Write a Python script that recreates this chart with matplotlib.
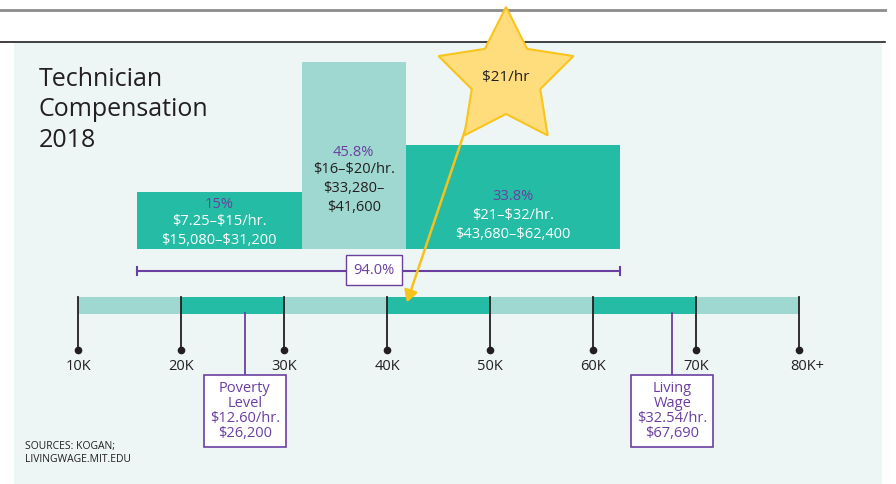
import numpy as np
import matplotlib.pyplot as plt
from matplotlib.patches import Rectangle, Polygon, FancyArrowPatch

plt.rcParams["font.family"] = ["Open Sans", "DejaVu Sans"]
plt.rcParams["text.parse_math"] = False

DARK = '#25bca5'
LIGHT = '#9fd8d0'
PURPLE = '#6b3fa0'
PANEL = '#edf6f4'
INK = '#231f20'

# salary axis (dollars)
tick_values = [10000, 20000, 30000, 40000, 50000, 60000, 70000, 80000]
tick_labels = ['10K', '20K', '30K', '40K', '50K', '60K', '70K', '80K+']

# distribution bars
bar_edges = [15700, 31700, 41800, 62600]
bar_heights = [57, 187, 104]
bar_pcts = ['15%', '45.8%', '33.8%']
bar_hourly = ['$7.25–$15/hr.', '$16–$20/hr.', '$21–$32/hr.']
bar_annual = ['$15,080–$31,200', '$33,280–\n$41,600', '$43,680–$62,400']
bar_colors = [DARK, LIGHT, DARK]
total_pct = '94.0%'

# reference markers
poverty = 26200
poverty_text = 'Poverty\nLevel\n$12.60/hr.\n$26,200'
living = 67690
living_text = 'Living\nWage\n$32.54/hr.\n$67,690'
star_text = '$21/hr'

W, H = 896, 484
PX_PER_USD = (799.3 - 78) / 70000


def usd(px):
    return 10000 + (px - 78) / PX_PER_USD


fig = plt.figure(figsize=(W / 100, H / 100), dpi=100)
ax = fig.add_axes([0, 0, 1, 1])
ax.set_xlim(usd(0), usd(W))
ax.set_ylim(H, 0)
ax.axis('off')

# frame lines and panel
ax.plot([usd(0), usd(885)], [10, 10], color='#8c8c8c', lw=2)
ax.plot([usd(0), usd(885)], [42, 42], color=INK, lw=1.2)
ax.add_patch(Rectangle((usd(14), 43), usd(882) - usd(14), H - 43,
                       color=PANEL, lw=0, zorder=0))

ax.text(usd(39), 110, 'Technician\nCompensation\n2018', fontsize=18,
        color=INK, va='center', ha='left', linespacing=1.3)

# bars
base = 249
for i in range(3):
    x0, x1 = bar_edges[i], bar_edges[i + 1]
    ax.add_patch(Rectangle((x0, base - bar_heights[i]), x1 - x0, bar_heights[i],
                           color=bar_colors[i], lw=0, zorder=2))

txt_kw = dict(ha='center', va='center', fontsize=10.5, zorder=5)
# left bar
cx = (bar_edges[0] + bar_edges[1]) / 2
ax.text(cx, 204, bar_pcts[0], color=PURPLE, **txt_kw)
ax.text(cx, 222, bar_hourly[0], color='white', **txt_kw)
ax.text(cx, 241, bar_annual[0], color='white', **txt_kw)
# middle bar
cx = (bar_edges[1] + bar_edges[2]) / 2
ax.text(cx, 152, bar_pcts[1], color=PURPLE, **txt_kw)
ax.text(cx, 170, bar_hourly[1], color=INK, **txt_kw)
ax.text(cx, 198, bar_annual[1], color=INK, linespacing=1.3, **txt_kw)
# right bar
cx = (bar_edges[2] + bar_edges[3]) / 2
ax.text(cx, 197, bar_pcts[2], color=PURPLE, **txt_kw)
ax.text(cx, 216, bar_hourly[2], color='white', **txt_kw)
ax.text(cx, 235, bar_annual[2], color='white', **txt_kw)

# 94% range bracket
ax.plot([bar_edges[0], bar_edges[-1]], [271, 271], color=PURPLE, lw=1.5, zorder=3)
for xe in (bar_edges[0], bar_edges[-1]):
    ax.plot([xe, xe], [267, 275], color=PURPLE, lw=1.5, zorder=3)
ax.text(usd(374), 270, total_pct, ha='center', va='center', fontsize=10.5,
        color=PURPLE, zorder=5,
        bbox=dict(boxstyle='square,pad=0.5', fc='white', ec=PURPLE, lw=1))

# salary strip
for i in range(len(tick_values) - 1):
    c = LIGHT if i % 2 == 0 else DARK
    ax.add_patch(Rectangle((tick_values[i], 297), tick_values[i + 1] - tick_values[i],
                           16.5, color=c, lw=0, zorder=2))
for v, lab in zip(tick_values, tick_labels):
    ax.plot([v, v], [297, 350], color=INK, lw=1.3, zorder=3)
    ax.plot(v, 350, 'o', color=INK, ms=4.5, zorder=3)
    dx = 8 / PX_PER_USD if lab.endswith('+') else 0
    ax.text(v + dx, 366, lab, ha='center', va='center', fontsize=10.5, color=INK)

# poverty / living wage callouts
for v, t in ((poverty, poverty_text), (living, living_text)):
    ax.plot([v, v], [313, 375], color=PURPLE, lw=1.3, zorder=3)
    ax.text(v, 411, t, ha='center', va='center', fontsize=10.5, color=PURPLE,
            linespacing=1.0, zorder=5,
            bbox=dict(boxstyle='square,pad=0.4', fc='white', ec=PURPLE, lw=1.2))

ax.text(usd(25), 453, 'SOURCES: KOGAN;\nLIVINGWAGE.MIT.EDU', fontsize=7.5,
        color=INK, ha='left', va='center', linespacing=1.35)

# arrow from star
ax.add_patch(FancyArrowPatch((usd(472), 110), (usd(406), 305),
                             arrowstyle='-|>,head_length=7,head_width=4',
                             color='#f8c21a', lw=1.8, zorder=6))

# star
ang = np.pi / 2 + np.arange(10) * np.pi / 5
rad = np.where(np.arange(10) % 2 == 0, 71, 36)
sx = usd(506 + rad * np.cos(ang))
sy = 78 - rad * np.sin(ang)
ax.add_patch(Polygon(np.column_stack([sx, sy]), closed=True, fc='#ffdc7c',
                     ec='#f9c51c', lw=1.5, zorder=7))
ax.text(usd(506), 78, star_text, ha='center', va='center', fontsize=11,
        color=INK, zorder=8)

fig.savefig('out.png', dpi=100)
